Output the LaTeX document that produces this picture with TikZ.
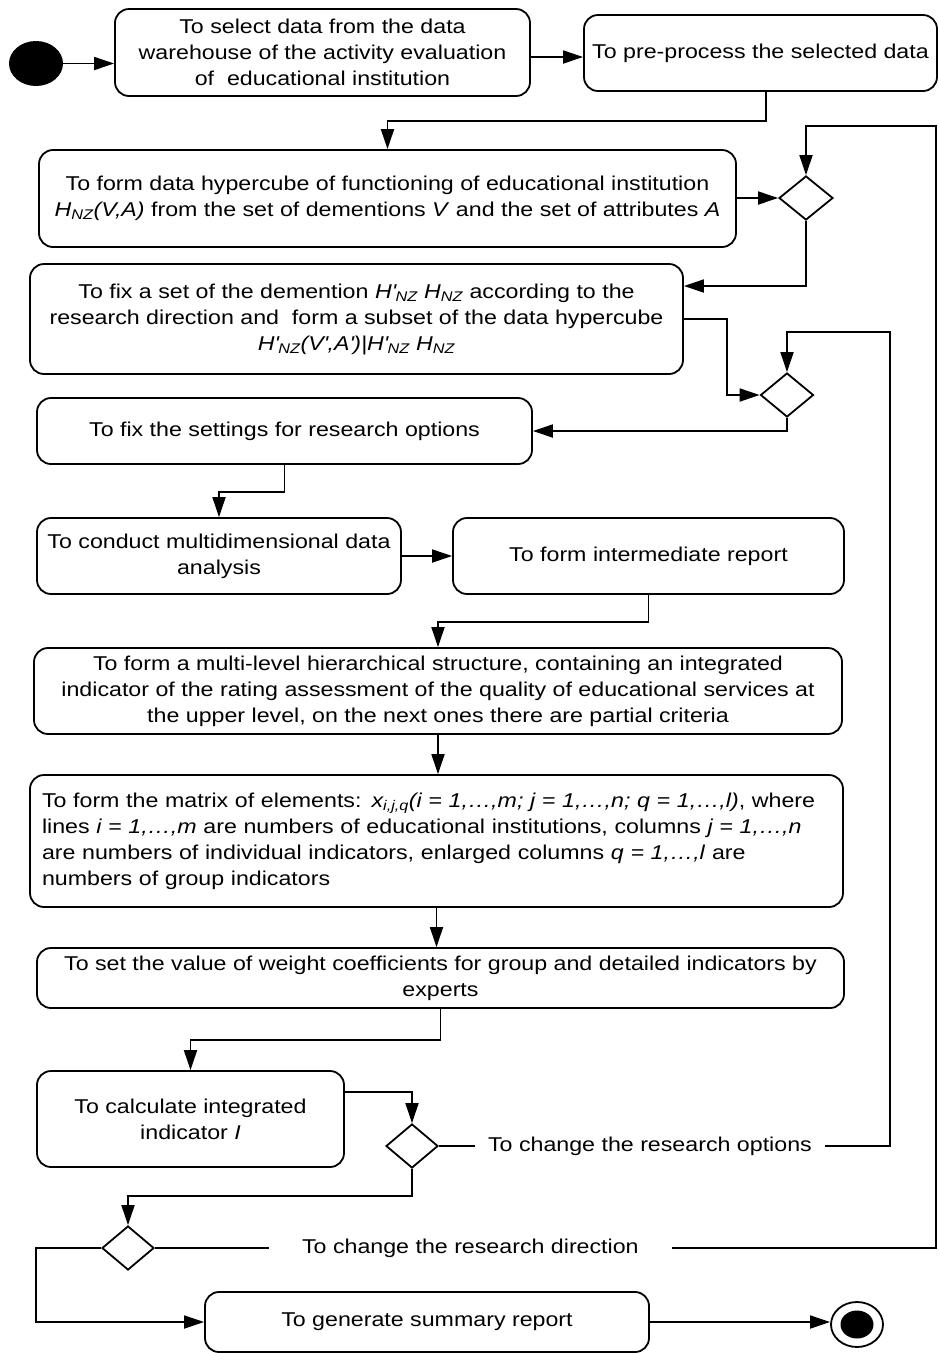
\documentclass[tikz,border=0pt]{standalone}
\usepackage{fontspec}
\setmainfont[FakeStretch=1.16]{Liberation Sans}
\usetikzlibrary{shapes.geometric,arrows.meta}
\tikzset{
  box/.style={draw, line width=1.8pt, rounded corners=14pt, align=center, inner sep=0pt,
    font=\fontsize{20pt}{26pt}\selectfont},
  dia/.style={draw, diamond, line width=1.8pt, inner sep=0pt},
  lbl/.style={inner ysep=0pt, font=\fontsize{20pt}{26pt}\selectfont},
  arr/.style={line width=1.8pt, -{Triangle[length=20pt,width=13pt]}},
  ln/.style={line width=1.8pt},
}
\newcommand{\pr}{\textquotesingle}
\begin{document}
\begin{tikzpicture}[x=1pt,y=-1pt]
\useasboundingbox (0,0) rectangle (939,1353);
\fill[white] (0,0) rectangle (939,1353);

\node[ellipse, fill=black, minimum width=54pt, minimum height=45pt, inner sep=0pt] (start) at (36,63.5) {};

\node[box, minimum width=415pt, minimum height=87pt] (b1) at (322.5,52.5)
  {To select data from the data\\warehouse of the activity evaluation\\of\ \ educational institution};
\node[box, minimum width=353pt, minimum height=76pt] (b2) at (760.5,53)
  {\raisebox{4pt}{To pre-process the selected data}};
\node[box, minimum width=697pt, minimum height=97pt] (b3) at (387.5,198.5)
  {To form data hypercube of functioning of educational institution\\
   \textit{H\textsubscript{NZ}(V,A)} from the set of dementions \textit{V} and the set of attributes \textit{A}};
\node[dia, minimum width=54pt, minimum height=44pt] (d1) at (806,198) {};
\node[box, minimum width=653pt, minimum height=110pt] (b4) at (356.5,319)
  {To fix a set of the demention \textit{H\pr\textsubscript{NZ} H\textsubscript{NZ}} according to the\\
   research direction and\ \ form a subset of the data hypercube\\
   \textit{H\pr\textsubscript{NZ}(V\pr,A\pr)|H\pr\textsubscript{NZ} H\textsubscript{NZ}}};
\node[dia, minimum width=53pt, minimum height=44pt] (d2) at (787,395) {};
\node[box, minimum width=495pt, minimum height=66pt] (b5) at (284.5,431)
  {To fix the settings for research options};
\node[box, minimum width=364pt, minimum height=76pt] (b6) at (219,556)
  {To conduct multidimensional data\\analysis};
\node[box, minimum width=391pt, minimum height=76pt] (b7) at (648.5,556)
  {\raisebox{3pt}{To form intermediate report}};
\node[box, minimum width=808pt, minimum height=86pt] (b8) at (438,691)
  {To form a multi-level hierarchical structure, containing an integrated\\
   indicator of the rating assessment of the quality of educational services at\\
   the upper level, on the next ones there are partial criteria};
\node[box, align=left, text width=789pt, inner xsep=12pt, minimum height=132pt] (b9) at (436.5,841)
  {To form the matrix of elements: \textit{x\textsubscript{i,j,q}(i = 1,\dots,m; j = 1,\dots,n; q = 1,\dots,l)}, where\\
   lines \textit{i = 1,\dots,m} are numbers of educational institutions, columns \textit{j = 1,\dots,n}\\
   are numbers of individual indicators, enlarged columns \textit{q = 1,\dots,l} are\\
   numbers of group indicators};
\node[box, minimum width=807pt, minimum height=60pt] (b10) at (440.5,978)
  {To set the value of weight coefficients for group and detailed indicators by\\experts};
\node[box, minimum width=307pt, minimum height=96pt] (b11) at (190.5,1119)
  {To calculate integrated\\indicator \textit{I}};
\node[dia, minimum width=52pt, minimum height=44pt] (d3) at (412,1146) {};
\node[dia, minimum width=52pt, minimum height=44pt] (d4) at (128,1248) {};
\node[box, minimum width=444pt, minimum height=60pt] (b12) at (427,1322)
  {To generate summary report};
\node[ellipse, draw, line width=1.8pt, minimum width=52pt, minimum height=45pt, inner sep=0pt] (endn) at (857,1324.5) {};
\node[ellipse, fill=black, minimum width=33pt, minimum height=28pt, inner sep=0pt] (endin) at (endn.center) {};

\node[lbl, anchor=west, inner xsep=13pt] (optlbl) at ([xshift=36pt]d3.east) {To change the research options};
\node[lbl, anchor=west, inner xsep=33pt] (dirlbl) at ([xshift=114pt]d4.east) {To change the research direction};

% connectors
\draw[arr] (start.east) -- (start.east -| b1.west);
\draw[arr] ([yshift=-4.5pt]b1.east) -- ([yshift=-4.5pt]b1.east -| b2.west);
\draw[arr] ([xshift=5.5pt]b2.south) -- ++(0,29) -| (b3.north);
\draw[arr] (d1.west -| b3.east) -- (d1.west);
\draw[arr] (d1.south) |- ([yshift=33pt]b4.east);
\draw[arr] (b4.east) -- ++(43,0) |- (d2.west);
\draw[arr] (d2.south) |- (b5.east);
\draw[arr] (b5.south) -- ++(0,27) -| (b6.north);
\draw[arr] (b6.east) -- (b7.west);
\draw[arr] (b7.south) -- ++(0,27) -| (b8.north);
\draw[arr] (b8.south) -- (b8.south |- b9.north);
\draw[arr] (b9.south) -- (b9.south |- b10.north);
\draw[arr] (b10.south) -- ++(0,31) -| (b11.north);
\draw[arr] ([yshift=27pt]b11.east) -| (d3.north);
\draw[ln] (d3.east) -- (optlbl.west);
\draw[arr] (optlbl.east) -- (890,1146) -- (890,332) -| (d2.north);
\draw[arr] (d3.south) -- ++(0,27) -| (d4.north);
\draw[ln] (d4.east) -- (dirlbl.west);
\draw[arr] (dirlbl.east) -- (936,1248) -- (936,126) -| (d1.north);
\draw[arr] (d4.west) -- ++(-65,0) |- (b12.west);
\draw[arr] (b12.east) -- (b12.east -| endn.west);
\end{tikzpicture}
\end{document}
